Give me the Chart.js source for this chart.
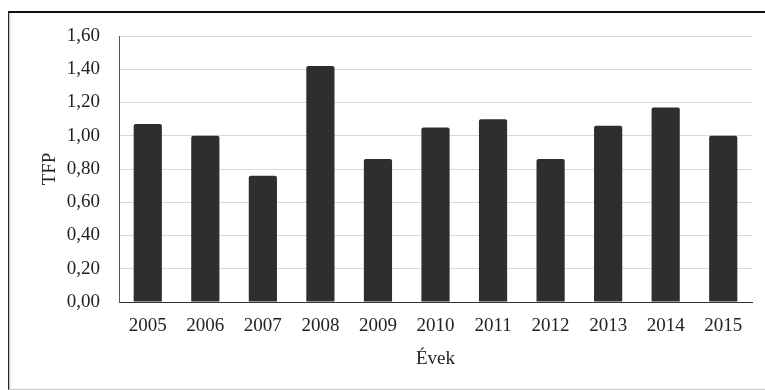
<!DOCTYPE html>
<html>
<head>
<meta charset="utf-8">
<script src="https://cdn.jsdelivr.net/npm/chart.js@4/dist/chart.umd.min.js"></script>
<style>
  body { margin: 0; background: #fff; }
  #frame {
    position: absolute; left: 8px; top: 11px; width: 770px; height: 376px;
    border-top: 2px solid #111; border-left: 1px solid #222; border-bottom: 1px solid #c8c8c8;
    box-shadow: inset 2px 0 2px -1px #bbb;
  }
  #wrap { position: absolute; left: 0; top: 0; width: 765px; height: 390px; }
</style>
</head>
<body>
<div id="frame"></div>
<div id="wrap"><canvas id="chart" width="765" height="390"></canvas></div>
<script>
// years and TFP values
const years = ["2005", "2006", "2007", "2008", "2009", "2010", "2011", "2012", "2013", "2014", "2015"];
const tfp = [1.07, 1.00, 0.76, 1.42, 0.86, 1.05, 1.10, 0.86, 1.06, 1.17, 1.00];

const fontFamily = "'Liberation Serif', 'Times New Roman', serif";

new Chart(document.getElementById("chart"), {
  type: "bar",
  data: {
    labels: years,
    datasets: [
      {
        label: "TFP",
        data: tfp,
        backgroundColor: "#2e2e2e",
        borderRadius: 2,
        borderSkipped: "start",
        categoryPercentage: 1,
        barPercentage: 0.49,
      },
    ],
  },
  options: {
    responsive: false,
    animation: false,
    layout: { padding: { left: 39, right: 13, top: 36, bottom: 20 } },
    plugins: {
      legend: { display: false },
      tooltip: { enabled: false },
    },
    scales: {
      x: {
        afterFit: (scale) => { scale.height = 68; },
        grid: { drawOnChartArea: false, drawTicks: false },
        border: { display: true, color: "#333", width: 1 },
        ticks: { color: "#222", padding: 13, font: { family: fontFamily, size: 19 } },
        title: {
          display: true,
          text: "Évek",
          color: "#222",
          padding: { top: 0, bottom: 0 },
          font: { family: fontFamily, size: 19 },
        },
      },
      y: {
        min: 0,
        max: 1.6,
        afterFit: (scale) => { scale.width = 80; },
        grid: { color: "#d9d9d9", lineWidth: 1, drawTicks: false },
        border: { display: true, color: "#555", width: 1 },
        ticks: {
          stepSize: 0.2,
          color: "#222",
          padding: 19,
          font: { family: fontFamily, size: 19 },
          callback: (v) => v.toFixed(2).replace(".", ","),
        },
        title: {
          display: true,
          text: "TFP",
          color: "#222",
          padding: { top: 0, bottom: 8 },
          font: { family: fontFamily, size: 19 },
        },
      },
    },
  },
});
</script>
</body>
</html>
